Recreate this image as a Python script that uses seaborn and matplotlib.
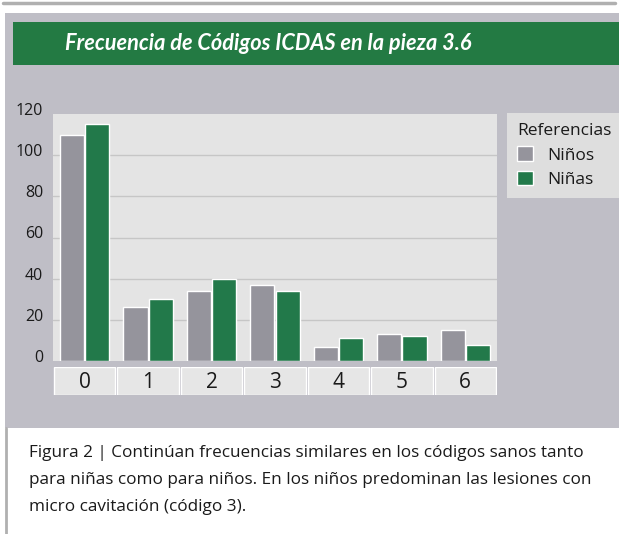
import matplotlib
matplotlib.use('Agg')
import matplotlib.pyplot as plt
import matplotlib.transforms as mtransforms
from matplotlib.patches import Rectangle, Patch
from matplotlib.lines import Line2D
import pandas as pd
import seaborn as sns

codigos = ['0', '1', '2', '3', '4', '5', '6']
ninos = [110, 26, 34, 37, 7, 13, 15]
ninas = [115, 30, 40, 34, 11, 12, 8]
series = ['Niños', 'Niñas']
yticks = [0, 20, 40, 60, 80, 100, 120]

titulo = 'Frecuencia de Códigos ICDAS en la pieza 3.6'
leyenda_titulo = 'Referencias'
pie = ['Figura 2 | Continúan frecuencias similares en los códigos sanos tanto',
       'para niñas como para niños. En los niños predominan las lesiones con',
       'micro cavitación (código 3).']

df = pd.DataFrame({
    'codigo': codigos * 2,
    'valor': ninos + ninas,
    'sexo': [series[0]] * len(codigos) + [series[1]] * len(codigos),
})

sns.set_theme(style='white')
plt.rcParams['font.family'] = ['Open Sans', 'DejaVu Sans']

W, H = 619, 534
fig = plt.figure(figsize=(W / 100, H / 100), dpi=100)
fig.patch.set_facecolor('white')

def fx(px):
    return px / W

def fy(py):
    return 1 - py / H

PANEL = '#bfbec6'
GRIS = '#95949c'
VERDE = '#22794a'
TEXTO = '#1a1a1a'

# panel background, title band and page frame lines
fig.patches.append(Rectangle((fx(5), fy(428)), fx(614), 415 / H, transform=fig.transFigure,
                             facecolor=PANEL, edgecolor='none', zorder=-3))
fig.patches.append(Rectangle((fx(13), fy(65)), fx(606), 43 / H, transform=fig.transFigure,
                             facecolor='#237a43', edgecolor='none', zorder=-2))
fig.lines.append(Line2D([fx(3), fx(615)], [fy(3), fy(3)], transform=fig.transFigure,
                        color='#b0b0b0', lw=2.5, zorder=-2))
fig.lines.append(Line2D([fx(6), fx(6)], [fy(428), 0], transform=fig.transFigure,
                        color='#b0b0b0', lw=2, zorder=-2))

fig.text(fx(268), fy(44), titulo, color='white', fontsize=15.7, style='italic',
         fontweight='bold', ha='center', va='center', family=['Lato', 'DejaVu Sans'])

# main bar chart
ax = fig.add_axes([fx(53), fy(361), fx(444), 247 / H], zorder=2)
sns.barplot(data=df, x='codigo', y='valor', hue='sexo', palette=[GRIS, VERDE],
            width=0.8, gap=0.05, saturation=1, ax=ax, legend=False)
ax.set_facecolor('#e4e4e4')
ax.set_ylim(0, 120)
ax.set_xlim(-0.5, 6.5)
ax.set_yticks(yticks)
ax.set_yticklabels([str(t) for t in yticks], fontsize=11.5, color=TEXTO)
ax.set_xticks([])
ax.set_xlabel('')
ax.set_ylabel('')
for y in yticks[1:-1]:
    ax.axhline(y, color='#c6c6c6', lw=1, zorder=0)
ax.set_axisbelow(True)
for s in ax.spines.values():
    s.set_visible(False)
ax.tick_params(axis='y', length=0, pad=7)
offset = mtransforms.ScaledTranslation(0, 0.05, fig.dpi_scale_trans)
for lab in ax.get_yticklabels():
    lab.set_transform(lab.get_transform() + offset)

# category cells under the chart
ax2 = fig.add_axes([fx(53), fy(395), fx(444), 28 / H], zorder=2)
sns.barplot(x=codigos, y=[1] * len(codigos), color='#e6e6e6', width=0.97,
            saturation=1, ax=ax2)
ax2.set_xlim(-0.5, 6.5)
ax2.set_ylim(0, 1)
ax2.axis('off')
for i, c in enumerate(codigos):
    ax2.text(i, 0.45, c, ha='center', va='center', fontsize=15, color=TEXTO)

# legend
handles = [Patch(facecolor=GRIS, label=series[0]), Patch(facecolor=VERDE, label=series[1])]
leg = ax.legend(handles=handles, title=leyenda_titulo, loc='upper left',
                bbox_to_anchor=(fx(507), fy(113)), bbox_transform=fig.transFigure,
                frameon=True, fancybox=False, facecolor='#dedede', edgecolor='none',
                fontsize=12.5, title_fontsize=12.5, alignment='left',
                handlelength=0.9, handleheight=0.9, handletextpad=0.8,
                borderpad=0.6, labelspacing=0.4, borderaxespad=0)
leg.get_frame().set_alpha(1)
for t in leg.get_texts():
    t.set_color(TEXTO)
leg.get_title().set_color(TEXTO)

# caption
for i, linea in enumerate(pie):
    fig.text(fx(29), fy(453 + 27 * i), linea, fontsize=12.3, color=TEXTO,
             ha='left', va='center')

fig.savefig('out.png', dpi=100, facecolor=fig.get_facecolor())
